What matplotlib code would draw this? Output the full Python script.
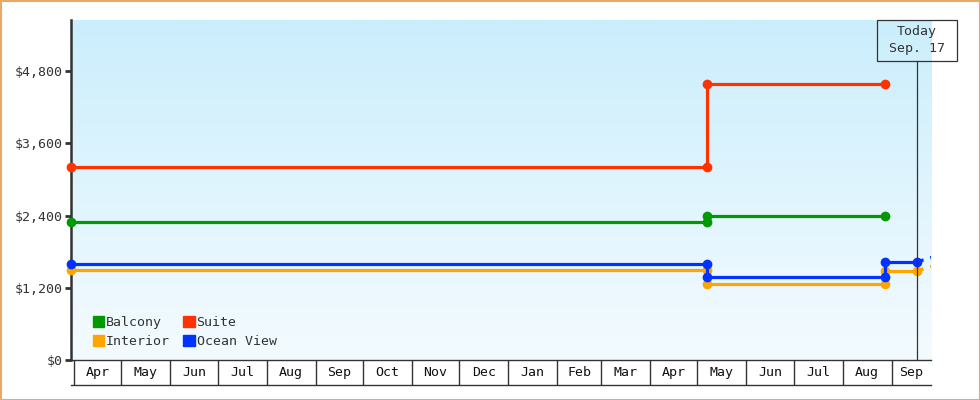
import numpy as np
import pandas as pd
import matplotlib
matplotlib.use("Agg")
import matplotlib.pyplot as plt
import matplotlib.dates as mdates
from matplotlib.colors import LinearSegmentedColormap
from matplotlib.patches import Patch, Rectangle

plt.rcParams['font.family'] = ['DejaVu Sans Mono']

#### data

start_date = "2024-03-30"
change_date = "2025-05-07"
last_date = "2025-08-28"
today_date = "2025-09-17"
end_date = "2025-09-26"
proj_date = "2025-10-01"

balcony_dates = [start_date, change_date, change_date, last_date]
balcony_prices = [2300, 2300, 2400, 2400]

suite_dates = [start_date, change_date, change_date, last_date]
suite_prices = [3200, 3200, 4580, 4580]

interior_dates = [start_date, change_date, change_date, last_date, last_date, today_date]
interior_prices = [1500, 1500, 1270, 1270, 1480, 1480]
interior_proj = [1480, 1590]

ocean_dates = [start_date, change_date, change_date, last_date, last_date, today_date]
ocean_prices = [1600, 1600, 1380, 1380, 1630, 1630]
ocean_proj = [1630, 1740]

y_ticks = [0, 1200, 2400, 3600, 4800]
today_label = "Today\nSep. 17"

colors = {"Balcony": "#009900", "Suite": "#FF3300",
          "Interior": "#FFA500", "Ocean View": "#0033FF"}

####

W, H = 980, 400
fig = plt.figure(figsize=(W / 100, H / 100), dpi=100)
fig.patch.set_facecolor('white')
fig.patches.append(Rectangle((0.5 / W, 0.5 / H), 1 - 1 / W, 1 - 1 / H,
                             transform=fig.transFigure, fill=False,
                             ec='#E9A964', lw=1.5))

ax = fig.add_axes([71 / W, 40 / H, 860 / W, 340 / H])

# gradient background
cmap = LinearSegmentedColormap.from_list('bg', ['#F4FBFF', '#CBEEFC'])
ax.imshow(np.linspace(0, 1, 256).reshape(-1, 1), extent=[0, 1, 0, 1],
          transform=ax.transAxes, cmap=cmap, aspect='auto', zorder=0,
          origin='lower')

def d(lst):
    return pd.to_datetime(lst)

series = [("Interior", interior_dates, interior_prices),
          ("Ocean View", ocean_dates, ocean_prices),
          ("Balcony", balcony_dates, balcony_prices),
          ("Suite", suite_dates, suite_prices)]

for name, dts, vals in series:
    ax.plot(d(dts), vals, color=colors[name], lw=2.3, marker='o', ms=6,
            zorder=3, clip_on=False, solid_joinstyle='miter')

for name, proj in [("Interior", interior_proj), ("Ocean View", ocean_proj)]:
    ax.plot(d([today_date, proj_date]), proj, color=colors[name], lw=2.3,
            ls=(0, (2.2, 2.2)), zorder=3)

ax.set_xlim(d([start_date, end_date]))
ax.set_ylim(0, 5650)

ax.set_yticks(y_ticks)
ax.set_yticklabels([f"${v:,}" for v in y_ticks])
ax.tick_params(axis='y', length=4, width=2, color='#333333', pad=2,
               labelsize=9.5, labelcolor='#333333')
ax.set_xticks([])
for s in ['top', 'right']:
    ax.spines[s].set_visible(False)
ax.spines['left'].set_linewidth(1.8)
ax.spines['left'].set_color('#333333')
ax.spines['bottom'].set_linewidth(1.0)
ax.spines['bottom'].set_color('#333333')

# today marker
today = pd.Timestamp(today_date)
ax.axvline(today, ymin=0, ymax=(360 - 60.5) / 340, color='#333333', lw=0.9,
           zorder=4)
tx = ax.transData.transform((mdates.date2num(today), 0))[0]
fig.patches.append(Rectangle(((tx - 40) / W, (H - 60.5) / H), 80 / W, 40.5 / H,
                             transform=fig.transFigure, fill=False,
                             ec='#333333', lw=0.9))
fig.text(tx / W, (H - 40) / H, today_label, ha='center', va='center',
         fontsize=9.5, color='#333333', linespacing=1.35)

# legend
handles = [Patch(color=colors[n]) for n in ["Balcony", "Interior", "Suite", "Ocean View"]]
labels = ["Balcony", "Interior", "Suite", "Ocean View"]
leg = ax.legend(handles, labels, ncol=2, loc='lower left',
                bbox_to_anchor=(22 / 860, 12 / 340), frameon=False,
                fontsize=9.5, handlelength=0.85, handleheight=0.85,
                handletextpad=0.15, columnspacing=1.0, labelspacing=0.45,
                borderpad=0, borderaxespad=0)
for t in leg.get_texts():
    t.set_color('#333333')

# month band under the axis
band = fig.add_axes([71 / W, 15 / H, 860 / W, 25 / H], sharex=ax)
band.patch.set_alpha(0)
band.set_yticks([])
band.tick_params(axis='x', bottom=False, labelbottom=False)
for s in ['top', 'right', 'left']:
    band.spines[s].set_visible(False)
band.spines['bottom'].set_color('#333333')
band.spines['bottom'].set_linewidth(1.0)

x0, x1 = ax.get_xlim()
months = pd.date_range("2024-04-01", end_date, freq='MS')
for i, m in enumerate(months):
    mstart = mdates.date2num(m)
    mend = mdates.date2num(m + pd.offsets.MonthBegin(1))
    band.axvline(m, color='#333333', lw=1.0)
    a, b = max(mstart, x0), min(mend, x1)
    band.text((a + b) / 2, 0.5, m.strftime('%b'), ha='center', va='center',
              fontsize=9.5, color='#111111')
band.set_xlim(x0, x1)

fig.savefig("out.png", dpi=100)
